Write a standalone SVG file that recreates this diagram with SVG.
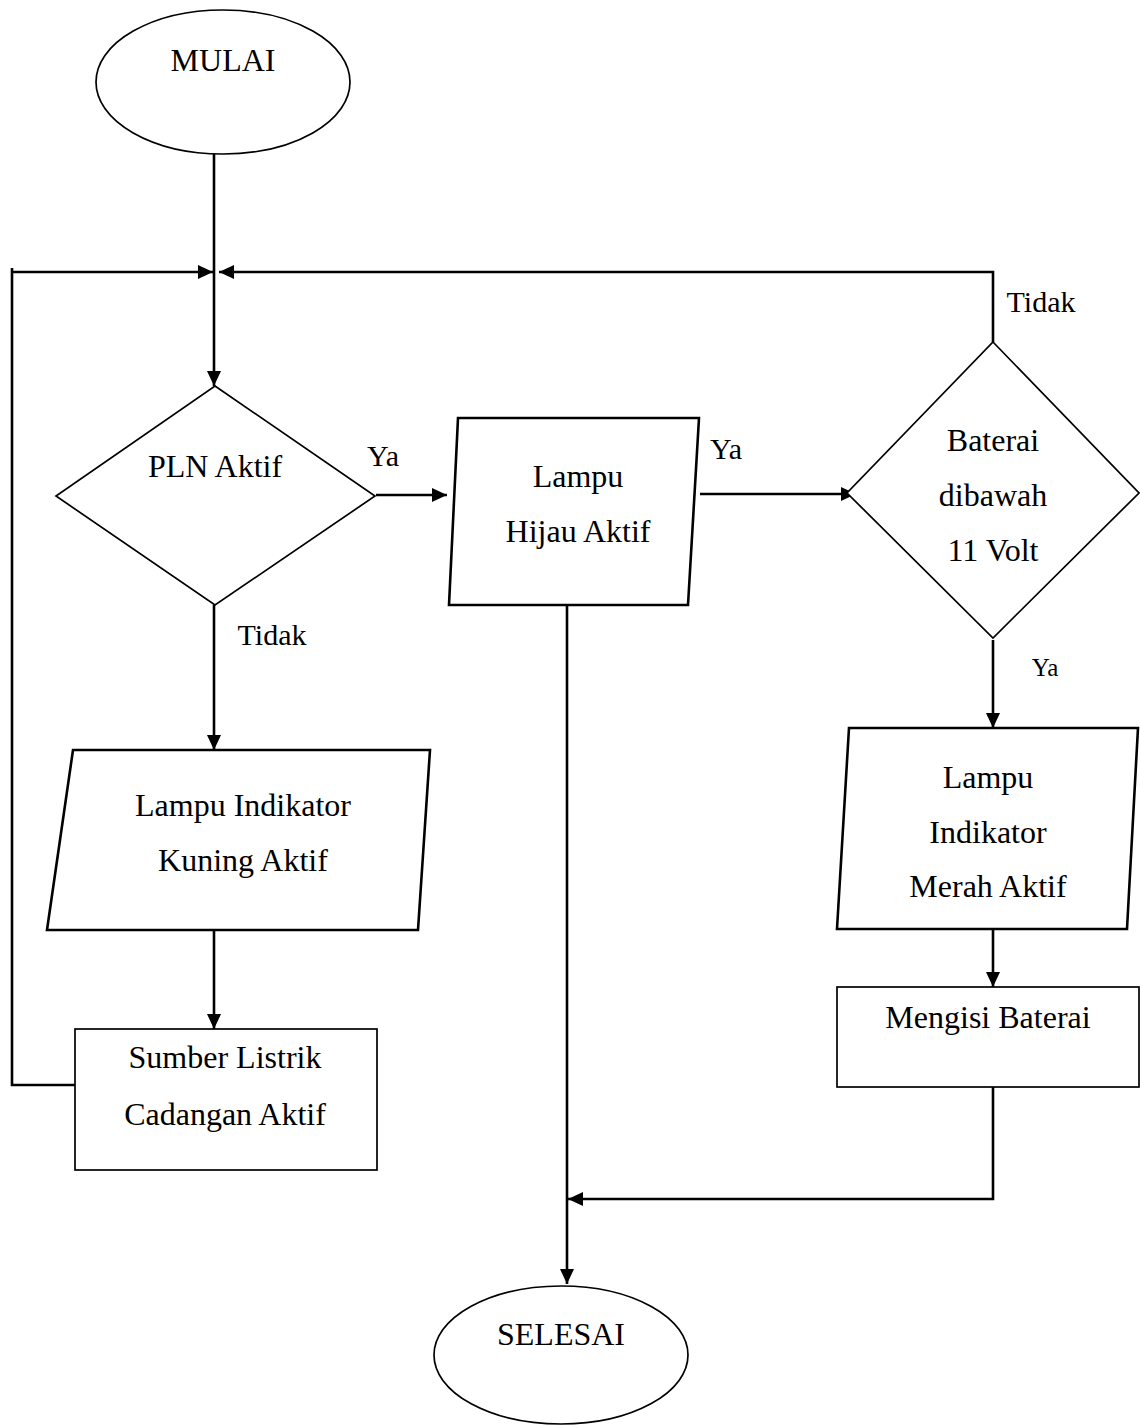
<svg xmlns="http://www.w3.org/2000/svg" width="1140" height="1425" viewBox="0 0 1140 1425">
<style>
.s{fill:#fff;stroke:#000;stroke-width:1.7}
.p{fill:#fff;stroke:#000;stroke-width:2.6}
.c{fill:none;stroke:#000;stroke-width:2.6}
text{font-family:"Liberation Serif","Times New Roman",serif;font-size:32px;fill:#000;text-anchor:middle}
.l{font-size:30px}
.sm{font-size:25px}
</style>
<defs>
<marker id="a" viewBox="0 0 15 14" refX="15" refY="7" markerWidth="15" markerHeight="14" orient="auto" markerUnits="userSpaceOnUse">
<path d="M0,0L15,7L0,14z" fill="#000"/>
</marker>
</defs>
<g id="connectors">
<path class="c" d="M214,154V386" marker-end="url(#a)"/>
<path class="c" d="M12,268V1085H75"/>
<path class="c" d="M12,272H213" marker-end="url(#a)"/>
<path class="c" d="M993,342V272H219" marker-end="url(#a)"/>
<path class="c" d="M376,495H447" marker-end="url(#a)"/>
<path class="c" d="M700,494H856" marker-end="url(#a)"/>
<path class="c" d="M214,605V750" marker-end="url(#a)"/>
<path class="c" d="M214,930V1029" marker-end="url(#a)"/>
<path class="c" d="M993,640V728" marker-end="url(#a)"/>
<path class="c" d="M993,929V987" marker-end="url(#a)"/>
<path class="c" d="M993,1087V1199H568" marker-end="url(#a)"/>
<path class="c" d="M567,606V1284" marker-end="url(#a)"/>
</g>
<g id="mulai"><ellipse class="s" cx="223" cy="82" rx="127" ry="72"/><text x="223" y="71">MULAI</text></g>
<g id="pln"><path class="s" d="M215,386L375,496L215,605L56,496z"/><text x="215" y="477">PLN Aktif</text></g>
<g id="hijau"><path class="p" d="M458,418H699L688,605H449z"/><text x="578" y="487">Lampu</text><text x="578" y="542">Hijau Aktif</text></g>
<g id="baterai"><path class="s" d="M993,342L1139,493L993,638L847,493z"/><text x="993" y="451">Baterai</text><text x="993" y="506">dibawah</text><text x="993" y="561">11 Volt</text></g>
<g id="kuning"><path class="p" d="M73,750H430L418,930H47z"/><text x="243" y="816">Lampu Indikator</text><text x="243" y="871">Kuning Aktif</text></g>
<g id="merah"><path class="p" d="M849,728H1138L1127,929H837z"/><text x="988" y="788">Lampu</text><text x="988" y="843">Indikator</text><text x="988" y="897">Merah Aktif</text></g>
<g id="cadangan"><rect class="s" x="75" y="1029" width="302" height="141"/><text x="225" y="1068">Sumber Listrik</text><text x="225" y="1125">Cadangan Aktif</text></g>
<g id="mengisi"><rect class="s" x="837" y="987" width="302" height="100"/><text x="988" y="1028">Mengisi Baterai</text></g>
<g id="selesai"><ellipse class="s" cx="561" cy="1355" rx="127" ry="69"/><text x="561" y="1345">SELESAI</text></g>
<g id="labels">
<text class="l" x="383" y="466">Ya</text>
<text class="l" x="726" y="459">Ya</text>
<text class="l" x="1041" y="312">Tidak</text>
<text class="l" x="272" y="645">Tidak</text>
<text class="sm" x="1045" y="676">Ya</text>
</g>
</svg>
